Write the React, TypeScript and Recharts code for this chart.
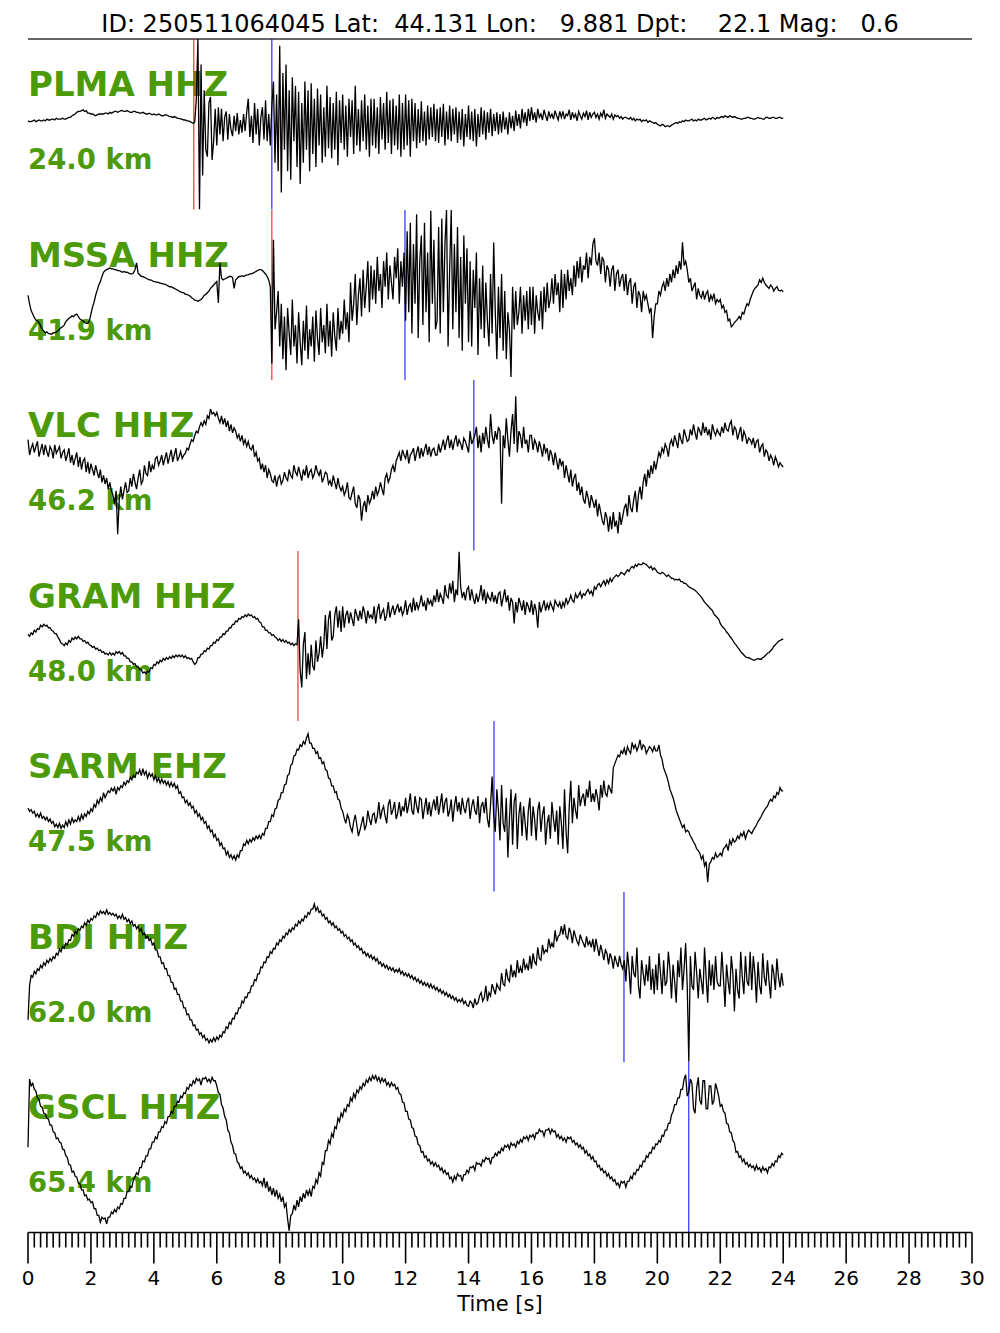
import React from 'react';
import { LineChart, Line, XAxis, YAxis, ReferenceLine } from 'recharts';

// event header
const TITLE = 'ID: 250511064045 Lat:  44.131 Lon:   9.881 Dpt:    22.1 Mag:   0.6';

const STATIONS = ['PLMA HHZ', 'MSSA HHZ', 'VLC HHZ', 'GRAM HHZ', 'SARM EHZ', 'BDI HHZ', 'GSCL HHZ'];
const DISTANCES = ['24.0 km', '41.9 km', '46.2 km', '48.0 km', '47.5 km', '62.0 km', '65.4 km'];

// picks in seconds (null = no pick)
const P_PICKS = [5.27, 7.75, null, 8.58, null, null, null];
const S_PICKS = [7.75, 11.98, 14.17, null, 14.81, 18.94, 21.0];

const MAJOR_TICKS = [0, 2, 4, 6, 8, 10, 12, 14, 16, 18, 20, 22, 24, 26, 28, 30];
const MINOR_STEP = 0.2;

// normalised traces, one sample every 0.05 s from 0 to 24 s (one row = 1 s)
const SAMPLE_STEP = 0.05;

const PLMA = [
  4, 3, 3, 4, 5, 3, 4, 5, 4, 4, 5, 4, 6, 5, 5, 6, 6, 5, 7, 6,
  6, 6, 7, 6, 6, 7, 8, 8, 10, 11, 12, 14, 15, 15, 16, 17, 15, 16, 13, 13,
  12, 12, 11, 10, 11, 12, 12, 12, 12, 13, 13, 12, 14, 13, 14, 15, 15, 14, 15, 16,
  16, 15, 15, 16, 15, 14, 14, 15, 15, 14, 14, 13, 13, 14, 13, 12, 12, 13, 12, 11,
  12, 11, 11, 12, 11, 10, 10, 11, 11, 10, 9, 9, 8, 9, 8, 7, 7, 6, 6, 5,
  5, 4, 4, 3, 2, 1, 3, 30, 100, -100, 70, -60, 40, -30, -38, 25, 32, -42, -20, 18,
  -25, 20, -12, 18, -20, 8, 15, -18, 12, -6, -14, 10, -8, 13, -12, 5, -10, 12, -8, 14,
  30, -15, 10, -22, 25, -12, 18, -25, 8, 20, -18, 28, -20, 12, -25, 22, 50, -45, 35, -55,
  92, -80, 60, -30, 70, -55, 40, -65, 55, -20, 45, -50, 38, -70, 25, -45, 50, -30, 40, -55,
  48, -35, 30, -50, 42, -25, 35, -45, 20, -38, 45, -28, 32, -40, 25, -30, 38, -48, 28, -22,
  35, -30, 22, -38, 30, -15, 28, -35, 45, -25, 18, -32, 28, -20, 35, -30, 22, -38, 30, -25,
  30, -28, 20, -35, 32, -18, 25, -30, 38, -22, 28, -35, 30, -25, 22, -30, 35, -38, 25, -30,
  35, -25, 28, -38, 30, -20, 25, -28, 18, -22, 27, -20, 15, -25, 22, -18, 20, -15, 24, -20,
  18, -22, 20, -15, 24, -25, 15, -18, 22, -20, 18, -12, 20, -22, 15, -18, 18, -26, 12, -15,
  22, -18, 15, -20, 18, -26, 12, -15, 20, -12, 16, -18, 14, -10, 18, -14, 12, -8, 14, -12,
  12, -10, 15, -6, 8, -12, 14, -5, 10, -8, 16, -2, 12, -5, 18, 2, 14, -2, 18, 4,
  20, 5, 14, 2, 18, 8, 12, 5, 17, 10, 4, 15, 8, 12, 6, 16, 10, 5, 15, 8,
  15, 6, 12, 10, 17, 5, 14, 8, 12, 4, 15, 10, 6, 13, 9, 16, 5, 14, 8, 12,
  14, 8, 12, 6, 13, 9, 17, 7, 12, 10, 8, 12, 6, 11, 9, 10, 7, 9, 6, 8,
  8, 7, 6, 8, 5, 7, 4, 6, 5, 6, 3, 5, 4, 5, 2, 4, 3, 2, 1, 2,
  0, -1, -2, 0, -1, -3, -2, -2, -3, -1, 0, 1, 2, 1, 3, 2, 4, 3, 5, 4,
  4, 5, 6, 4, 5, 4, 6, 5, 5, 6, 7, 5, 6, 7, 6, 8, 7, 6, 8, 7,
  8, 9, 8, 10, 9, 8, 10, 9, 8, 9, 8, 7, 7, 6, 6, 7, 7, 8, 8, 7,
  7, 6, 6, 7, 8, 7, 7, 6, 6, 8, 8, 7, 7, 8, 8, 7, 7, 8, 8, 7,
  7,
];

const MSSA = [
  0, -10, -18, -22, -26, -29, -30, -32, -36, -40, -42, -44, -43, -45, -45, -46, -44, -44, -43, -42,
  -40, -38, -37, -35, -31, -29, -27, -26, -24, -25, -23, -22, -25, -28, -29, -30, -32, -33, -33, -30,
  -22, -14, -8, 0, 6, 12, 16, 22, 27, 29, 30, 31, 32, 31, 31, 30, 30, 29, 29, 28,
  27, 28, 27, 27, 26, 25, 25, 26, 30, 38, 26, 24, 22, 22, 21, 20, 19, 18, 18, 17,
  16, 16, 15, 15, 14, 14, 13, 13, 12, 11, 10, 10, 9, 8, 7, 6, 5, 4, 3, 3,
  1, 1, 0, -1, -3, -4, -6, -6, -7, -6, -5, -3, 0, 1, 3, 5, 8, 10, 12, 14,
  16, -9, 38, 20, 18, 19, 20, 21, 22, 22, 21, 8, 18, 20, 22, 22, 23, 22, 23, 24,
  24, 25, 25, 26, 27, 28, 29, 30, 30, 29, 27, 25, 22, 18, 10, -80, 65, -40, -20, 5,
  -60, -10, -75, -25, -88, -15, -45, -70, -5, -60, -35, -80, -20, -55, -82, -30, -65, -12, -75, -40,
  -60, -25, -78, -18, -50, -70, -15, -55, -35, -68, -10, -60, -30, -72, -20, -48, -65, -15, -52, -30,
  -45, -5, -40, -20, -55, 15, -30, -10, 25, -35, 0, 20, -25, 30, -15, 10, 40, -20, 35, -5,
  30, -10, 45, 5, 25, -15, 40, 10, 50, -5, 35, 15, -5, 45, 20, 55, -10, 40, 10, 50,
  -30, 75, -20, 85, -45, 60, -10, 95, -50, 40, 70, -35, 85, -20, 50, -55, 99, -10, 65, -40,
  -30, 80, -45, 90, -20, 60, 100, -60, 30, 100, -40, 60, -20, 80, -50, 45, -65, 70, -10, 55,
  -55, 40, -60, 30, -15, 50, -70, 20, -40, 35, -50, 15, -30, -60, 25, -45, 62, -20, -75, 10,
  -50, 25, -65, 5, -75, -20, -40, -96, 10, -40, 5, -35, -20, 10, -45, 0, -30, 5, -40, 10,
  -35, 10, -45, 0, -20, -30, 5, -40, 10, -20, 15, -15, -5, 20, -10, 25, 0, 15, -20, 30,
  -15, 25, -5, 30, 5, 20, 0, 35, 10, 40, 20, 45, 15, 35, 30, 50, 20, 45, 35, 60,
  67, 40, 35, 50, 25, 45, 40, 15, 35, 30, 10, 30, 35, 5, 25, 30, 10, 20, 25, 5,
  25, 0, 15, 20, -10, 10, 15, -15, 5, 0, -20, 5, -5, 0, -10, -20, -15, -50, -25, -10,
  -10, 5, 0, 10, 15, 5, 20, 10, 25, 15, 30, 20, 35, 25, 40, 30, 62, 35, 40, 30,
  15, 20, 5, 10, 15, -5, 8, 0, -3, 5, -5, 2, 5, -8, 0, -5, 2, -10, -5, -8,
  -5, -15, -12, -20, -18, -30, -28, -37, -35, -32, -30, -28, -25, -28, -20, -22, -15, -10, -12, -5,
  0, 5, 8, 10, 12, 18, 15, 20, 15, 12, 10, 8, 12, 10, 5, 8, 10, 6, 5, 6,
  4,
];

const VLC = [
  30, 12, 20, 25, 15, 22, 28, 10, 18, 25, 12, 24, 16, 10, 22, 18, 8, 24, 14, 18,
  22, 8, 15, 18, 5, 12, 20, 3, 12, 0, 8, 15, -2, 10, -5, 5, 8, -8, 4, -10,
  2, -5, -12, 0, -8, -15, -5, -20, -12, -22, -15, -28, -20, -30, -35, -45, -30, -81, -40, -25,
  -40, -30, -20, -32, -30, -15, -25, -10, -20, -28, -15, -5, -22, -18, 0, -10, -12, 5, -8, 0,
  -5, 8, 10, 0, 5, 12, 0, 8, 15, 2, 10, 18, 4, 12, 20, 5, 10, 16, 8, 12,
  14, 20, 18, 25, 30, 28, 35, 40, 38, 45, 50, 46, 52, 48, 58, 55, 66, 60, 62, 58,
  62, 55, 50, 58, 48, 55, 45, 52, 40, 48, 38, 44, 40, 32, 36, 28, 35, 25, 30, 22,
  28, 20, 18, 24, 10, 15, 5, 8, -5, 2, -8, 0, -15, -5, -10, -18, -20, -12, -25, -15,
  -12, -22, -18, -8, -15, -18, -5, -12, -15, 0, -8, -12, -2, -10, -18, -5, -12, 0, -15, -8,
  -5, -15, -10, 0, -8, -12, -5, -20, -15, -8, -10, -22, -18, -25, -12, -20, -28, -15, -25, -30,
  -25, -35, -30, -20, -38, -40, -32, -25, -45, -50, -35, -40, -65, -48, -42, -55, -35, -45, -40, -30,
  -40, -25, -35, -30, -20, -28, -35, -15, -10, -20, -15, -5, 0, -8, 5, 10, 15, 5, 18, 12,
  8, 18, 2, 12, 15, 20, 5, 15, 22, 8, 20, 10, 18, 25, 12, 22, 10, 18, 20, 12,
  12, 25, 15, 22, 30, 18, 28, 35, 20, 30, 18, 28, 35, 22, 30, 25, 18, 32, 28, 22,
  15, 40, 25, 30, 35, 45, 20, 35, 15, 38, 25, 45, 30, 20, 60, 35, 25, 40, 30, 45,
  40, -45, 35, 20, 55, 30, 10, 40, 60, 25, 81, 15, 40, 35, 20, 45, 25, 30, 15, 35,
  35, 18, 30, 25, 15, 28, 20, 10, 25, 15, 20, 5, 18, 12, 0, 15, 5, -5, 8, 0,
  5, -15, 0, -10, -20, -5, -25, -15, -10, -30, -20, -35, -25, -40, -45, -30, -38, -50, -35, -42,
  -50, -40, -60, -45, -55, -65, -70, -55, -62, -78, -60, -75, -55, -72, -65, -80, -55, -70, -60, -50,
  -45, -60, -35, -50, -55, -40, -30, -55, -35, -25, -40, -20, -10, -25, -5, -15, 0, -10, 5, -5,
  5, 15, 10, 20, 15, 25, 20, 10, 25, 30, 22, 35, 28, 20, 38, 30, 25, 42, 35, 28,
  30, 42, 35, 48, 38, 30, 45, 40, 35, 50, 38, 45, 35, 42, 30, 48, 40, 35, 42, 38,
  35, 45, 38, 50, 42, 40, 48, 52, 35, 45, 42, 30, 38, 45, 28, 40, 35, 25, 32, 30,
  25, 32, 20, 28, 30, 15, 22, 25, 10, 18, 15, 5, 12, 8, 0, 10, 5, -2, 3, 0,
  -2,
];

const GRAM = [
  2, 0, 4, 2, 7, 5, 9, 8, 13, 11, 14, 12, 13, 10, 10, 7, 6, 3, 3, -1,
  -4, -8, -9, -11, -8, -10, -5, -7, -2, -4, -1, -3, 0, -3, -3, -6, -5, -8, -7, -10,
  -11, -13, -12, -15, -14, -17, -16, -19, -18, -21, -20, -22, -19, -22, -20, -22, -18, -20, -18, -21,
  -19, -23, -23, -26, -26, -30, -30, -33, -32, -36, -36, -39, -39, -43, -42, -44, -41, -42, -37, -38,
  -33, -34, -30, -32, -28, -30, -26, -28, -25, -27, -24, -26, -23, -25, -22, -24, -22, -24, -22, -25,
  -23, -26, -25, -27, -26, -30, -33, -31, -25, -25, -21, -21, -17, -18, -14, -15, -11, -11, -7, -8,
  -4, -5, -1, -1, 3, 2, 6, 6, 10, 10, 14, 14, 18, 17, 21, 20, 23, 22, 25, 23,
  26, 24, 25, 22, 23, 20, 21, 17, 16, 11, 11, 7, 7, 4, 4, 1, 2, -1, -2, -5,
  -3, -6, -4, -7, -5, -8, -7, -10, -8, -11, -9, -10, 20, -40, -60, -10, 5, -50, -20, -45,
  -10, -35, -40, -5, -30, -20, 0, -25, -10, 25, -15, 20, 30, -5, 0, 25, 35, 10, 30, 5,
  35, 10, 25, 30, 15, 28, 20, 12, 32, 25, 18, 30, 20, 35, 28, 15, 30, 22, 25, 20,
  35, 15, 30, 38, 20, 28, 32, 18, 25, 40, 22, 30, 36, 25, 32, 38, 28, 35, 25, 30,
  42, 25, 35, 38, 28, 45, 30, 40, 32, 38, 48, 35, 40, 30, 45, 38, 42, 35, 48, 40,
  55, 40, 50, 45, 38, 60, 48, 45, 62, 50, 65, 40, 55, 48, 99, 58, 45, 52, 42, 55,
  58, 42, 55, 45, 38, 50, 40, 48, 60, 42, 55, 38, 50, 45, 42, 52, 40, 48, 38, 50,
  52, 35, 45, 55, 40, 48, 30, 45, 40, 15, 40, 28, 45, 38, 30, 42, 25, 40, 35, 28,
  42, 25, 38, 30, 10, 40, 28, 35, 42, 30, 38, 32, 40, 35, 30, 42, 38, 35, 40, 32,
  40, 35, 45, 38, 42, 48, 42, 40, 50, 45, 48, 52, 45, 50, 48, 52, 55, 50, 53, 48,
  58, 55, 60, 62, 58, 62, 65, 60, 66, 62, 68, 64, 68, 70, 72, 70, 72, 75, 74, 72,
  75, 78, 76, 80, 82, 80, 84, 82, 85, 84, 84, 86, 85, 84, 82, 80, 82, 78, 80, 78,
  75, 74, 73, 75, 74, 72, 70, 72, 70, 68, 68, 66, 67, 66, 67, 64, 64, 62, 62, 60,
  58, 57, 56, 55, 54, 52, 50, 48, 46, 43, 40, 38, 36, 34, 32, 30, 26, 24, 22, 20,
  15, 12, 10, 8, 5, 3, 0, -2, -5, -8, -10, -13, -15, -18, -20, -22, -24, -25, -25, -26,
  -27, -28, -28, -27, -26, -27, -27, -25, -24, -22, -20, -19, -17, -15, -12, -10, -8, -6, -5, -4,
  -3,
];

const SARM = [
  -2, -6, -4, -8, -6, -12, -9, -13, -8, -14, -12, -16, -13, -18, -15, -20, -18, -24, -21, -25,
  -20, -26, -22, -25, -18, -23, -16, -21, -14, -19, -16, -18, -12, -17, -10, -15, -9, -12, -6, -9,
  -3, -6, 2, -1, 7, 3, 10, 6, 16, 10, 14, 18, 16, 21, 18, 22, 14, 22, 19, 24,
  22, 28, 25, 30, 28, 34, 31, 36, 34, 40, 38, 43, 36, 44, 37, 41, 33, 39, 35, 38,
  31, 36, 29, 33, 27, 32, 27, 30, 25, 29, 23, 28, 23, 27, 21, 24, 15, 17, 10, 11,
  4, 7, 1, 4, -2, 0, -8, -5, -12, -9, -16, -13, -20, -18, -26, -23, -30, -28, -36, -33,
  -40, -38, -46, -43, -50, -49, -57, -53, -60, -57, -62, -58, -63, -57, -60, -52, -52, -44, -46, -40,
  -44, -39, -42, -37, -40, -35, -38, -34, -38, -32, -34, -26, -26, -18, -18, -10, -12, -3, -2, 7,
  8, 16, 16, 25, 26, 36, 38, 48, 50, 59, 60, 67, 66, 72, 70, 76, 73, 80, 85, 74,
  74, 68, 68, 62, 64, 56, 57, 50, 52, 43, 42, 33, 32, 24, 24, 16, 17, 8, 7, -2,
  -6, -14, -20, -10, -15, -25, -30, -18, -10, -22, -35, -28, -20, -12, -28, -22, -5, -15, -22, -10,
  -8, -20, -12, 5, -15, -5, 0, -12, -20, 2, 8, -10, -4, 5, -15, -8, 5, -12, 0, -6,
  10, -8, 2, 15, -5, -10, 12, 0, -8, 10, 8, -15, -2, 10, -10, 5, -12, 0, 8, -5,
  12, -10, 2, 15, -8, 5, 10, -12, -5, 8, -18, 0, 12, -6, 5, -10, 10, -2, -8, 5,
  10, -15, 0, 8, -5, -10, 12, -20, 0, 5, -8, 10, -15, -25, 2, 35, -10, -30, 20, -5,
  -40, 25, -20, -30, 10, -60, -15, 20, -45, 5, 15, -50, -10, 5, -35, 0, -20, -40, -5, 10,
  -35, 0, -15, -40, -5, 5, -30, -10, 0, -45, -20, -10, -38, 5, -15, -30, -5, -45, 0, -20,
  -50, 20, -30, -55, 0, 30, -20, 10, -5, -15, 25, 0, 10, 15, 0, 20, 10, 30, 5, 15,
  5, 20, 10, -5, 25, 10, 30, 15, 12, 25, 20, 15, 45, 50, 55, 60, 58, 65, 62, 68,
  60, 70, 65, 62, 75, 68, 72, 65, 70, 78, 66, 72, 70, 62, 66, 70, 68, 64, 70, 65,
  65, 72, 60, 55, 45, 40, 35, 28, 20, 15, 10, 3, -5, -10, -15, -20, -25, -22, -30, -28,
  -30, -35, -38, -42, -45, -50, -52, -55, -62, -58, -70, -65, -89, -68, -65, -60, -62, -55, -60, -58,
  -55, -58, -50, -48, -45, -52, -40, -45, -38, -42, -40, -35, -38, -32, -35, -30, -38, -32, -28, -30,
  -32, -28, -25, -22, -18, -15, -12, -8, -5, -2, 0, 5, 8, 6, 12, 10, 16, 14, 22, 18,
  18,
];

const BDI = [
  -50, -10, 2, 0, 7, 4, 10, 8, 14, 11, 17, 14, 20, 17, 22, 19, 24, 22, 28, 26,
  33, 30, 36, 34, 40, 38, 44, 43, 50, 48, 54, 51, 57, 55, 60, 58, 64, 61, 67, 64,
  69, 67, 72, 70, 76, 73, 78, 75, 77, 74, 79, 74, 76, 73, 75, 72, 74, 69, 72, 69,
  74, 68, 70, 65, 68, 63, 66, 60, 62, 57, 60, 54, 57, 50, 52, 46, 48, 43, 45, 38,
  40, 32, 32, 24, 24, 16, 17, 10, 10, 2, 2, -6, -6, -14, -13, -20, -20, -28, -28, -36,
  -36, -44, -43, -50, -50, -57, -56, -62, -61, -67, -65, -71, -68, -74, -72, -77, -73, -76, -71, -75,
  -70, -73, -68, -70, -64, -65, -58, -60, -53, -55, -48, -49, -42, -43, -36, -36, -28, -30, -23, -24,
  -18, -18, -10, -10, -3, -4, 4, 4, 12, 11, 18, 17, 24, 23, 30, 28, 34, 33, 40, 38,
  44, 42, 48, 46, 52, 50, 56, 53, 58, 56, 62, 60, 66, 63, 68, 66, 72, 70, 76, 74,
  80, 80, 86, 78, 82, 76, 78, 72, 74, 68, 70, 64, 66, 61, 64, 58, 60, 55, 57, 52,
  54, 48, 50, 45, 47, 42, 44, 38, 40, 35, 37, 32, 34, 28, 30, 25, 28, 23, 26, 21,
  24, 19, 22, 16, 18, 13, 16, 11, 14, 9, 12, 8, 11, 6, 9, 6, 10, 4, 7, 2,
  5, 1, 4, -1, 2, -3, 0, -5, -2, -7, -4, -9, -6, -10, -7, -12, -8, -13, -10, -15,
  -12, -17, -14, -19, -16, -21, -18, -23, -20, -25, -22, -27, -24, -29, -26, -29, -25, -31, -28, -33,
  -34, -28, -30, -36, -25, -32, -30, -22, -18, -28, -24, -10, -28, -18, -22, -8, -14, -20, -8, -12,
  -15, 5, -8, -10, 10, -2, -5, 15, 0, 8, 0, 20, 5, 12, 5, 22, 10, 15, 8, 25,
  10, 28, 18, 15, 35, 22, 20, 38, 28, 32, 30, 45, 35, 40, 35, 55, 42, 48, 50, 60,
  50, 62, 48, 45, 58, 52, 40, 55, 48, 42, 38, 50, 44, 40, 35, 48, 38, 42, 35, 45,
  30, 45, 35, 25, 38, 30, 20, 32, 28, 15, 28, 22, 10, 25, 18, 12, 25, 15, 10, 20,
  -5, 30, 10, -20, 25, 5, 0, 35, -10, -25, 20, 5, -10, 15, -5, 25, -15, 10, -20, 15,
  -15, 28, 5, -20, 20, -10, -5, 30, 10, -25, 15, -5, -30, 20, 0, 35, -15, 10, 40, -10,
  -99, 25, -10, -15, 30, 5, -25, 10, -5, -20, 35, 0, -30, 20, -10, 15, -15, 25, -5, -10,
  -10, 30, 0, -35, 15, -5, -20, 25, 5, -40, 10, -15, -25, 30, 0, -20, 25, -5, -10, 30,
  -15, 25, 5, -30, 18, -10, -20, 28, 0, -10, 20, -5, -25, 15, 5, -15, 22, 0, -12, 5,
  -10,
];

const GSCL = [
  0, 80, 72, 75, 68, 66, 58, 56, 48, 47, 40, 39, 34, 33, 26, 26, 18, 17, 10, 11,
  6, 5, -2, -3, -10, -12, -20, -21, -29, -28, -34, -35, -42, -43, -50, -50, -57, -56, -62, -61,
  -65, -64, -72, -72, -80, -80, -88, -82, -84, -83, -90, -82, -82, -76, -78, -73, -76, -70, -72, -66,
  -67, -60, -60, -52, -52, -46, -47, -38, -35, -30, -32, -24, -24, -16, -17, -10, -10, -2, -2, 6,
  6, 12, 10, 18, 18, 24, 23, 30, 28, 36, 36, 42, 40, 48, 48, 54, 53, 60, 58, 64,
  63, 70, 68, 74, 72, 78, 75, 81, 78, 80, 73, 81, 80, 82, 77, 80, 76, 82, 78, 78,
  72, 64, 62, 50, 46, 36, 32, 20, 17, 6, 2, -7, -8, -17, -19, -25, -23, -30, -28, -33,
  -30, -36, -33, -38, -36, -41, -37, -42, -40, -45, -36, -48, -40, -52, -46, -56, -48, -58, -50, -60,
  -55, -64, -58, -70, -66, -84, -98, -80, -78, -68, -74, -62, -70, -58, -64, -54, -60, -50, -56, -50,
  -58, -46, -48, -38, -42, -30, -34, -18, -20, -4, -4, 8, 4, 16, 12, 24, 22, 34, 30, 40,
  36, 45, 42, 50, 48, 58, 54, 63, 58, 67, 64, 71, 68, 75, 72, 79, 76, 82, 78, 84,
  80, 84, 78, 82, 76, 81, 77, 80, 73, 76, 71, 76, 72, 74, 68, 70, 63, 62, 53, 52,
  42, 42, 33, 32, 23, 22, 13, 12, 3, 2, -6, -5, -12, -10, -16, -14, -20, -17, -22, -18,
  -23, -21, -27, -24, -30, -27, -32, -30, -37, -35, -41, -34, -38, -31, -34, -33, -40, -32, -32, -27,
  -30, -23, -24, -22, -27, -18, -20, -19, -22, -15, -17, -12, -14, -13, -20, -12, -12, -7, -10, -5,
  -7, -1, -4, 2, 0, 3, -2, 5, 2, 4, 0, 7, 4, 9, 6, 12, 10, 13, 8, 14,
  12, 15, 10, 17, 16, 21, 18, 19, 13, 20, 20, 22, 16, 21, 18, 19, 12, 15, 10, 13,
  8, 11, 6, 12, 10, 12, 6, 8, 3, 5, 0, 3, -2, 0, -7, -4, -10, -8, -14, -11,
  -17, -16, -23, -21, -27, -25, -30, -28, -34, -31, -37, -35, -40, -38, -44, -42, -47, -40, -42, -40,
  -47, -40, -40, -34, -37, -30, -32, -26, -27, -21, -23, -16, -17, -10, -12, -6, -7, 0, -2, 4,
  3, 8, 6, 14, 13, 20, 20, 28, 28, 38, 42, 50, 50, 58, 58, 68, 68, 80, 85, 60,
  65, 80, 75, 45, 40, 70, 82, 55, 50, 78, 78, 45, 45, 72, 72, 50, 55, 75, 68, 60,
  48, 50, 42, 40, 28, 27, 18, 17, 8, 5, -6, -5, -12, -10, -17, -14, -20, -18, -23, -20,
  -24, -22, -27, -21, -26, -24, -29, -23, -27, -25, -30, -23, -24, -19, -22, -16, -17, -10, -12, -7,
  -9,
];

const TRACES = [PLMA, MSSA, VLC, GRAM, SARM, BDI, GSCL];

const MINOR_TICKS = Array.from({ length: 151 }, (_, i) => Math.round(i * MINOR_STEP * 10) / 10);

const GREEN = '#4c9a08';
const FONT = '"DejaVu Sans", Verdana, sans-serif';
const PANEL_TOP = 39;
const PANEL_H = 170.5;
const AXIS_H = 90;

function toRows(vals: number[]) {
  return vals.map((v, i) => ({ t: Math.round(i * SAMPLE_STEP * 100) / 100, v }));
}

// long tick + label every 2 s, short tick otherwise
const TimeTick = (props: any) => {
  const { x, y, payload } = props;
  const val = payload.value;
  const major = MAJOR_TICKS.includes(val);
  return (
    <g>
      <line x1={x} x2={x} y1={y} y2={y + (major ? 31 : 15)} stroke="#000" strokeWidth={1.6} />
      {major && (
        <text x={x} y={y + 52} textAnchor="middle" fontFamily={FONT} fontSize={20} fill="#000">
          {val}
        </text>
      )}
    </g>
  );
};

function Panel({ idx }: { idx: number }) {
  const last = idx === TRACES.length - 1;
  const top = PANEL_TOP + idx * PANEL_H;
  const p = P_PICKS[idx];
  const s = S_PICKS[idx];
  return (
    <div style={{ position: 'absolute', left: 0, top }}>
      <LineChart
        width={1000}
        height={last ? PANEL_H + AXIS_H : PANEL_H}
        data={toRows(TRACES[idx])}
        margin={{ top: 0, right: 28, bottom: 0, left: 28 }}
      >
        <XAxis
          dataKey="t"
          type="number"
          domain={[0, 30]}
          hide={!last}
          ticks={MINOR_TICKS}
          interval={0}
          height={AXIS_H}
          tickSize={0}
          tickMargin={0}
          tickLine={false}
          axisLine={{ stroke: '#000', strokeWidth: 1.5 }}
          tick={<TimeTick />}
        />
        <YAxis domain={[-100, 100]} hide allowDataOverflow />
        {p !== null && <ReferenceLine x={p} stroke="#ff0000" strokeWidth={1} />}
        {s !== null && <ReferenceLine x={s} stroke="#0000ff" strokeWidth={1} />}
        <Line
          type="linear"
          dataKey="v"
          stroke="#000"
          strokeWidth={1.3}
          dot={false}
          isAnimationActive={false}
        />
      </LineChart>
    </div>
  );
}

export default function App() {
  return (
    <div style={{ position: 'absolute', left: 0, top: 0, width: 1000, height: 1333, background: '#fff' }}>
      <svg width={1000} height={1333} style={{ position: 'absolute', left: 0, top: 0 }}>
        <text x={500} y={32} textAnchor="middle" fontFamily={FONT} fontSize={24} style={{ whiteSpace: 'pre' }}>
          {TITLE}
        </text>
        <line x1={28} x2={972} y1={39} y2={39} stroke="#333" strokeWidth={1.5} />
        {STATIONS.map((name, i) => (
          <g key={name} fontFamily={FONT} fontWeight="bold" fill={GREEN}>
            <text x={28} y={PANEL_TOP + i * PANEL_H + 57} fontSize={34}>{name}</text>
            <text x={28} y={PANEL_TOP + i * PANEL_H + 130} fontSize={27.5}>{DISTANCES[i]}</text>
          </g>
        ))}
        <text x={500} y={1311} textAnchor="middle" fontFamily={FONT} fontSize={21}>Time [s]</text>
      </svg>
      {TRACES.map((_, i) => (
        <Panel key={i} idx={i} />
      ))}
    </div>
  );
}
